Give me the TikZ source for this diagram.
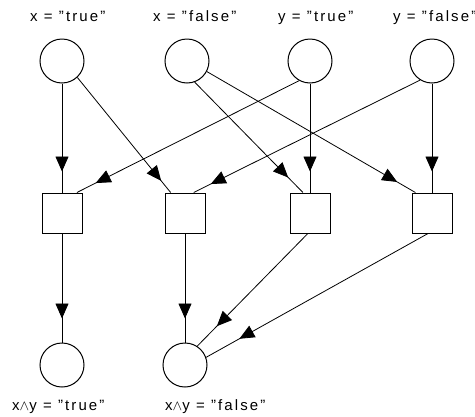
\documentclass[tikz,border=0pt]{standalone}
\usepackage{fontspec}
\setmainfont{Liberation Sans}
\usetikzlibrary{arrows.meta,decorations.markings}
\begin{document}
\begin{tikzpicture}[x=1pt,y=-1pt,
  place/.style={circle,draw,line width=1pt,minimum size=44pt,inner sep=0pt},
  trans/.style={rectangle,draw,line width=1pt,minimum size=40pt,inner sep=0pt},
  lbl/.style={anchor=base west,inner sep=0pt,font=\fontsize{15}{17}\selectfont\addfontfeature{LetterSpace=14}},
  arc/.style={line width=0.8pt,postaction={decorate},
    decoration={markings,mark=at position #1 with {\arrow{Triangle[length=15pt,width=13pt]}}}},
  arc/.default=-21pt]
\useasboundingbox (0,0) rectangle (475,416);
\node[place] (c1) at (62,61) {};
\node[place] (c2) at (187,61) {};
\node[place] (c3) at (310,61) {};
\node[place] (c4) at (432,61) {};
\node[trans] (s1) at (62,213) {};
\node[trans] (s2) at (185,213) {};
\node[trans] (s3) at (310,213) {};
\node[trans] (s4) at (432,213) {};
\node[place] (b1) at (62,365) {};
\node[place] (b2) at (185,365) {};
\node[lbl] (l1) at (30,21) {x = "true"};
\node[lbl] (l2) at (153,21) {x = "false"};
\node[lbl] (l3) at (278,21) {y = "true"};
\node[lbl] (l4) at (393,21) {y = "false"};
\node[lbl] (l5) at (12,410) {x$\wedge$y = "true"};
\node[lbl] (l6) at (165,410) {x$\wedge$y = "false"};
\draw[arc] (c1.south) -- (s1.north);
\draw[arc=-15pt] (c1.-47) -- (s2.125);
\draw[arc] (c2.-70) -- (s3.109);
\draw[arc] (c2.-28) -- (s4.129);
\draw[arc] (c3.-119) -- (s1.54);
\draw[arc=-19pt] (c4.-122) -- (s2.67);
\draw[arc] (c3.south) -- (s3.north);
\draw[arc] (c4.south) -- (s4.north);
\draw[arc=-24pt] (s1.south) -- (b1.north);
\draw[arc=-24pt] (s2.south) -- (b2.north);
\draw[arc=-28pt] (s3.-96) -- (b2.57);
\draw[arc=-38pt] (s4.-101) -- (b2.20);
\end{tikzpicture}
\end{document}
